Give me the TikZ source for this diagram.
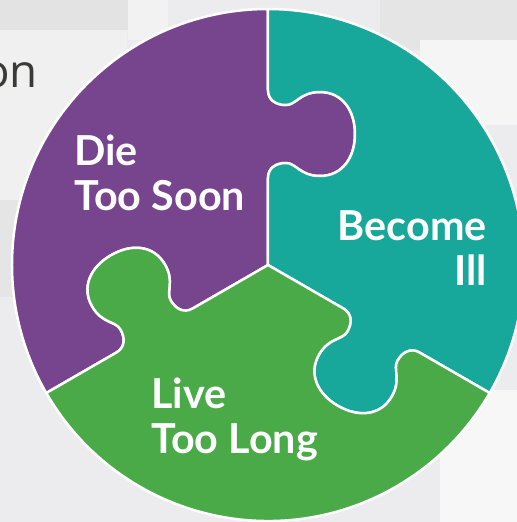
\documentclass[tikz,border=0pt]{standalone}
\usepackage{fontspec}
\setmainfont{Lato}
\newfontfamily\bgfont{Open Sans}
\definecolor{diepurple}{HTML}{77458D}
\definecolor{illteal}{HTML}{17A89B}
\definecolor{longgreen}{HTML}{4AAA48}
\definecolor{bggrey}{HTML}{ECECEE}
\definecolor{bgdark}{HTML}{3A3A38}
\newcommand{\seamout}{-- (0,87) .. controls (0,97) and (8,102) .. (18,102)
  .. controls (28,102) and (32,89) .. (52,89) .. controls (74,89) and (87,107) .. (87,131)
  .. controls (87,155) and (74,173) .. (52,173) .. controls (32,173) and (28,160) .. (18,160)
  .. controls (8,160) and (0,165) .. (0,175) -- (0,256)}
\newcommand{\seamin}{-- (0,175) .. controls (0,165) and (8,160) .. (18,160)
  .. controls (28,160) and (32,173) .. (52,173) .. controls (74,173) and (87,155) .. (87,131)
  .. controls (87,107) and (74,89) .. (52,89) .. controls (32,89) and (28,102) .. (18,102)
  .. controls (8,102) and (0,97) .. (0,87) -- (0,0)}
\tikzset{
  piece/.style={draw=white,line width=0.05cm,line join=round},
  lbl/.style={text=white,inner sep=0pt,font=\fontsize{23.5}{28}\selectfont\bfseries},
}
\begin{document}
\begin{tikzpicture}[x=0.02cm,y=0.02cm]
	\useasboundingbox (-268,-257) rectangle (249,265);
	\fill[bggrey] (-268,-257) rectangle (249,265);
	\fill[color=black!11] (-268,265) rectangle (-140,235);
	\fill[color=black!5] (-140,265) rectangle (-100,225);
	\fill[color=black!6] (-268,235) rectangle (-141,65);
	\fill[color=black!10] (-268,65) rectangle (-141,-32);
	\fill[color=black!10] (112,265) rectangle (249,215);
	\fill[color=black!4] (152,225) rectangle (249,140);
	\fill[color=black!3] (172,-125) rectangle (249,-257);
	\node[anchor=base east,inner sep=0pt,text=bgdark,font=\bgfont\fontsize{26}{30}\selectfont] (onword) at (-230,178) {on};
	\foreach \ang/\col in {0/diepurple,-120/illteal,120/longgreen}
		\path[piece,fill=\col,rotate=\ang] (0,0) \seamout
			arc[start angle=90,end angle=210,radius=256] {[rotate=120] \seamin} -- cycle;
	\node[lbl,anchor=base west] (die) at (-194,100) {Die};
	\node[lbl,anchor=base west] (soon) at (-194,55) {Too Soon};
	\node[lbl,anchor=base east] (become) at (219,25) {Become};
	\node[lbl,anchor=base east] (ill) at (219,-20) {Ill};
	\node[lbl,anchor=base west] (live) at (-117,-143) {Live};
	\node[lbl,anchor=base west] (long) at (-117,-188) {Too Long};
\end{tikzpicture}
\end{document}
